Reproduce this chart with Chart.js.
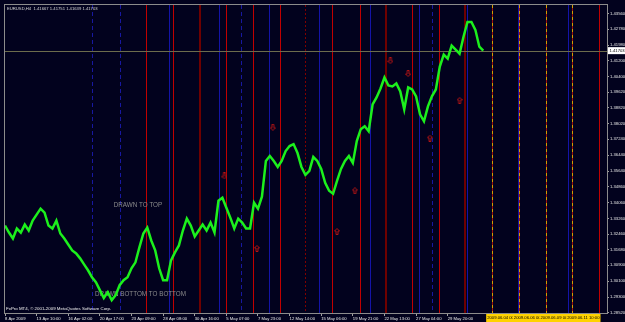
<!DOCTYPE html>
<html>
<head>
<meta charset="utf-8">
<script src="https://cdn.jsdelivr.net/npm/chart.js@4.4.1/dist/chart.umd.min.js"></script>
<style>
html, body { margin: 0; padding: 0; background: #02021e; }
</style>
</head>
<body>
<canvas id="chart" width="625" height="322"></canvas>
<script>
// EURUSD H4 closes, one value every BAR_STEP bars starting at bar 0
const BAR_STEP = 2;
const closes = [
  1.3290, 1.3255, 1.3225, 1.3275, 1.3255, 1.3295, 1.3265, 1.3315, 1.3345, 1.3375,
  1.3355, 1.3290, 1.3275, 1.3315, 1.3250, 1.3225, 1.3195, 1.3165, 1.3150, 1.3125,
  1.3095, 1.3065, 1.3030, 1.3005, 1.2965, 1.2925, 1.2955, 1.2915, 1.2940, 1.2990,
  1.3015, 1.3030, 1.3075, 1.3105, 1.3180, 1.3250, 1.3280, 1.3215, 1.3165, 1.3075,
  1.3015, 1.3015, 1.3115, 1.3155, 1.3190, 1.3265, 1.3325, 1.3290, 1.3235, 1.3265,
  1.3295, 1.3265, 1.3305, 1.3255, 1.3415, 1.3430, 1.3380, 1.3330, 1.3275, 1.3325,
  1.3305, 1.3275, 1.3275, 1.3405, 1.3375, 1.3435, 1.3615, 1.3640, 1.3615, 1.3585,
  1.3615, 1.3665, 1.3690, 1.3700, 1.3655, 1.3585, 1.3545, 1.3565, 1.3635, 1.3615,
  1.3575, 1.3505, 1.3465, 1.3450, 1.3515, 1.3575, 1.3615, 1.3640, 1.3605, 1.3715,
  1.3775, 1.3790, 1.3765, 1.3900, 1.3935, 1.3980, 1.4035, 1.3995, 1.3990, 1.4005,
  1.3965, 1.3875, 1.3985, 1.3975, 1.3940, 1.3850, 1.3815, 1.3890, 1.3940, 1.3975,
  1.4090, 1.4150, 1.4130, 1.4195, 1.4175, 1.4155, 1.4240, 1.4315, 1.4315, 1.4275,
  1.4190, 1.4170
];

// time axis: one label every 16 bars
const TICK_EVERY = 16;
const xTickLabels = ['8 Apr 2009', '13 Apr 10:00', '16 Apr 02:00', '20 Apr 17:00', '23 Apr 09:00',
  '28 Apr 08:00', '30 Apr 16:00', '5 May 07:00', '7 May 23:00', '12 May 14:00', '15 May 06:00',
  '19 May 21:00', '22 May 13:00', '27 May 04:00', '29 May 20:00'];
const yTicks = [1.28520, 1.29300, 1.30100, 1.30900, 1.31680, 1.32460, 1.33260, 1.34060, 1.34860,
  1.35640, 1.36440, 1.37240, 1.38020, 1.38820, 1.39620, 1.40400, 1.41200, 1.41980, 1.42780, 1.43560];

// vertical line objects, in bars
const redLines = [71.5, 85, 112, 125.5, 139, 165.5, 179.5, 206, 219.5, 300.5];
const darkRedLines = [98.5, 193, 233];
const darkRedDashed = [152];
const blueLines = [83, 108.5, 133.5, 159, 184.5, 209.5, 234, 259.5, 285];
const blueDashed = [44, 58, 119.5, 216];
const futureLines = [246.5, 260, 273.5, 287];
const futureLabels = ['2009.06.04 00:00', '2009.06.06 00:00', '2009.06.09 00:00', '2009.06.11 10:00'];

// signal arrows
const downArrowBars = [111, 135.5, 195, 204];
const downArrowPrices = [1.3540, 1.3785, 1.4120, 1.4055];
const upArrowBars = [127.5, 168, 177, 215, 230];
const upArrowPrices = [1.3175, 1.3260, 1.3465, 1.3730, 1.3920];

// text objects
const textLabels = ['DRAWN TO TOP', 'DRAWN BOTTOM TO BOTTOM'];
const textBars = [55, 45.5];
const textPrices = [1.3390, 1.2945];

const lastPrice = 1.41703;
const headerText = 'EURUSD,H4  1.41667 1.41751 1.41639 1.41703';
const copyText = 'FxPro MT4, \u00a9 2001-2009 MetaQuotes Software Corp.';

const BG = '#02021e';
const FONT = 'Liberation Sans, Arial, sans-serif';

function makeArrow(down) {
    const c = document.createElement('canvas');
    c.width = 6; c.height = 7;
    const g = c.getContext('2d');
    const pts = [[3, 0.5], [5.5, 3], [4, 3], [4, 6.5], [2, 6.5], [2, 3], [0.5, 3]];
    g.strokeStyle = '#b41414';
    g.lineWidth = 1;
    g.beginPath();
    pts.forEach((p, i) => {
        const y = down ? 7 - p[1] : p[1];
        if (i === 0) g.moveTo(p[0], y); else g.lineTo(p[0], y);
    });
    g.closePath();
    g.stroke();
    return c;
}

const mt4Plugin = {
    id: 'mt4',
    beforeDraw(chart) {
        const ctx = chart.ctx;
        ctx.save();
        ctx.fillStyle = BG;
        ctx.fillRect(0, 0, chart.width, chart.height);
        ctx.restore();
    },
    beforeDatasetsDraw(chart) {
        const { ctx, chartArea: a, scales: { x, y } } = chart;
        ctx.save();
        ctx.beginPath();
        ctx.rect(a.left, a.top, a.right - a.left, a.bottom - a.top);
        ctx.clip();

        const vline = (bar, color, width, dash) => {
            const px = Math.round(x.getPixelForValue(bar)) + (width % 2 ? 0.5 : 0);
            ctx.strokeStyle = color;
            ctx.lineWidth = width;
            ctx.setLineDash(dash || []);
            ctx.beginPath();
            ctx.moveTo(px, a.top);
            ctx.lineTo(px, a.bottom);
            ctx.stroke();
        };
        blueLines.forEach(b => vline(b, '#1414a8', 1));
        blueDashed.forEach(b => vline(b, '#1818a0', 1, [4, 3]));
        redLines.forEach(b => vline(b, '#c00000', 1));
        darkRedLines.forEach(b => vline(b, '#6e0000', 2));
        darkRedDashed.forEach(b => vline(b, '#800000', 1, [2, 2]));
        futureLines.forEach(b => {
            vline(b, '#a01010', 1);
            vline(b, '#d0a000', 1, [3, 3]);
        });

        // current price line
        const py = Math.round(y.getPixelForValue(lastPrice)) + 0.5;
        ctx.setLineDash([]);
        ctx.strokeStyle = '#6c6c4c';
        ctx.lineWidth = 1;
        ctx.beginPath();
        ctx.moveTo(a.left, py);
        ctx.lineTo(a.right, py);
        ctx.stroke();

        // text objects
        ctx.fillStyle = '#8c8c8c';
        ctx.font = '6.3px ' + FONT;
        ctx.textBaseline = 'middle';
        ctx.textAlign = 'left';
        textLabels.forEach((t, i) => {
            ctx.fillText(t, x.getPixelForValue(textBars[i]), y.getPixelForValue(textPrices[i]));
        });
        ctx.restore();
    },
    afterDraw(chart) {
        const { ctx, chartArea: a, scales: { x, y } } = chart;
        ctx.save();
        // frame
        ctx.strokeStyle = '#8c8c8c';
        ctx.lineWidth = 1;
        ctx.strokeRect(a.left - 0.5, a.top - 0.5, a.right - a.left + 1, a.bottom - a.top + 1);

        ctx.textBaseline = 'middle';
        ctx.textAlign = 'left';
        ctx.font = '4.2px ' + FONT;
        ctx.fillStyle = '#d8d8d8';
        ctx.fillText(headerText, a.left + 2, a.top + 4);
        ctx.fillStyle = '#f0f0f0';
        ctx.font = '4.4px ' + FONT;
        ctx.fillText(copyText, a.left + 1, a.bottom - 4);

        // current price box on the price axis
        const py = y.getPixelForValue(lastPrice);
        ctx.font = '4.2px ' + FONT;
        const label = lastPrice.toFixed(5);
        const w = ctx.measureText(label).width + 3;
        ctx.fillStyle = '#ffffff';
        ctx.fillRect(a.right + 1, py - 3.5, w, 7);
        ctx.fillStyle = '#000000';
        ctx.fillText(label, a.right + 2.5, py);

        // future time labels
        futureLines.forEach((b, i) => {
            const px = x.getPixelForValue(b) - 6;
            const tw = ctx.measureText(futureLabels[i]).width + 2;
            ctx.fillStyle = '#ffd200';
            ctx.fillRect(px, a.bottom + 1, tw, 8);
            ctx.fillStyle = '#000000';
            ctx.fillText(futureLabels[i], px + 1, a.bottom + 5);
        });
        ctx.restore();
    }
};

new Chart(document.getElementById('chart'), {
    type: 'line',
    data: {
        datasets: [{
            data: closes.map((c, i) => ({ x: i * BAR_STEP, y: c })),
            borderColor: '#1cf01c',
            borderWidth: 2.5,
            pointRadius: 0,
            tension: 0
        }, {
            type: 'scatter',
            data: downArrowBars.map((b, i) => ({ x: b, y: downArrowPrices[i] })),
            pointStyle: makeArrow(true),
            pointRadius: 3
        }, {
            type: 'scatter',
            data: upArrowBars.map((b, i) => ({ x: b, y: upArrowPrices[i] })),
            pointStyle: makeArrow(false),
            pointRadius: 3
        }]
    },
    options: {
        responsive: false,
        animation: false,
        devicePixelRatio: 1,
        layout: { padding: { left: 2, top: 3, right: 0, bottom: 0 } },
        plugins: { legend: { display: false }, tooltip: { enabled: false } },
        scales: {
            x: {
                type: 'linear',
                min: 0,
                max: 304.6,
                afterBuildTicks: s => { s.ticks = xTickLabels.map((_, i) => ({ value: i * TICK_EVERY })); },
                afterFit: s => { s.height = 9; },
                grid: { drawOnChartArea: false, tickLength: 3, color: '#a0a0a0' },
                border: { color: '#a0a0a0' },
                ticks: {
                    autoSkip: false, maxRotation: 0, minRotation: 0, align: 'start', padding: 0,
                    color: '#e8e8e8', font: { family: FONT, size: 4.2 },
                    callback: (v, i) => xTickLabels[i]
                }
            },
            y: {
                position: 'right',
                min: 1.2850,
                max: 1.4400,
                afterBuildTicks: s => { s.ticks = yTicks.map(v => ({ value: v })); },
                afterFit: s => { s.width = 18; },
                grid: { drawOnChartArea: false, tickLength: 2, color: '#a0a0a0' },
                border: { color: '#a0a0a0' },
                ticks: {
                    padding: 1, color: '#e8e8e8', font: { family: FONT, size: 4.2 },
                    callback: v => Number(v).toFixed(5)
                }
            }
        }
    },
    plugins: [mt4Plugin]
});
</script>
</body>
</html>
